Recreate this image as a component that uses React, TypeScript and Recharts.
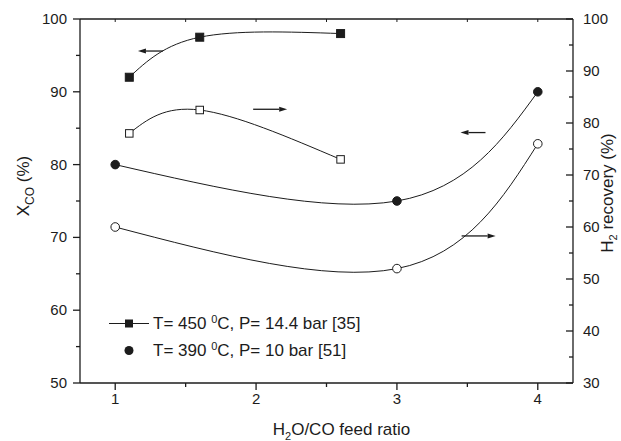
import React from 'react';
import { ComposedChart, Line, Scatter, XAxis, YAxis, Legend } from 'recharts';

// H2O/CO feed ratio axis
const ratioTicks = [1, 1.5, 2, 2.5, 3, 3.5, 4];
const xcoTicks = [50, 55, 60, 65, 70, 75, 80, 85, 90, 95, 100];
const recoveryTicks = [30, 35, 40, 45, 50, 55, 60, 65, 70, 75, 80, 85, 90, 95, 100];

// T = 450 C, P = 14.4 bar [35]
const ratio450 = [1.1, 1.6, 2.6];
const xco450 = [92, 97.5, 98];
const recovery450 = [78, 82.5, 73];

// T = 390 C, P = 10 bar [51]
const ratio390 = [1, 3, 4];
const xco390 = [80, 75, 90];
const recovery390 = [60, 52, 76];

// arrows pointing to the axis each curve belongs to (left-axis units)
const arrowRatio = [1.25, 2.1, 3.54, 3.58];
const arrowXco = [95.6, 87.6, 84.4, 70.2];
const arrowDir = ['left', 'right', 'left', 'right'];

const legendItems = [
  { temp: '450', rest: 'C, P= 14.4 bar [35]', marker: 'square' },
  { temp: '390', rest: 'C, P= 10 bar [51]', marker: 'circle' },
];

const ink = '#1c1c1c';
const font = '"Liberation Sans", Arial, sans-serif';

const toPoints = (xs: number[], ys: number[]) => xs.map((x, i) => ({ x, y: ys[i] }));
const arrows = arrowRatio.map((x, i) => ({ x, y: arrowXco[i], dir: arrowDir[i] }));

const BottomTick = (props: any) => {
  const { x, y, payload } = props;
  const major = Number.isInteger(payload.value);
  return (
    <g>
      <line x1={x} x2={x} y1={y} y2={y + (major ? 7 : 4)} stroke={ink} strokeWidth={1.3} />
      {major && (
        <text x={x} y={y + 21} textAnchor="middle" fontSize={15} fill={ink} fontFamily={font}>
          {payload.value}
        </text>
      )}
    </g>
  );
};

const TopTick = (props: any) => {
  const { x, y } = props;
  return <line x1={x} x2={x} y1={y} y2={y + 3} stroke={ink} strokeWidth={1} />;
};

const LeftTick = (props: any) => {
  const { x, y, payload } = props;
  const major = payload.value % 10 === 0;
  return (
    <g>
      <line x1={x - (major ? 7 : 4)} x2={x} y1={y} y2={y} stroke={ink} strokeWidth={1.3} />
      {major && (
        <text x={x - 13} y={y + 5} textAnchor="end" fontSize={15} fill={ink} fontFamily={font}>
          {payload.value}
        </text>
      )}
    </g>
  );
};

const RightTick = (props: any) => {
  const { x, y, payload } = props;
  const major = payload.value % 10 === 0;
  return (
    <g>
      <line x1={x - (major ? 7 : 4)} x2={x} y1={y} y2={y} stroke={ink} strokeWidth={1.3} />
      {major && (
        <text x={x + 10} y={y + 5} textAnchor="start" fontSize={15} fill={ink} fontFamily={font}>
          {payload.value}
        </text>
      )}
    </g>
  );
};

const XTitle = (props: any) => {
  const { viewBox } = props;
  const cx = viewBox.x + viewBox.width / 2 + 15;
  return (
    <text x={cx} y={viewBox.y + 52} textAnchor="middle" fontSize={17} fill={ink} fontFamily={font}>
      H<tspan dy={5} fontSize={11}>2</tspan>
      <tspan dy={-5}>O/CO feed ratio</tspan>
    </text>
  );
};

const LeftTitle = () => {
  const cx = 29;
  const cy = 186;
  return (
    <text
      x={cx}
      y={cy}
      transform={`rotate(-90 ${cx} ${cy})`}
      textAnchor="middle"
      fontSize={17}
      fill={ink}
      fontFamily={font}
    >
      X<tspan dy={5} fontSize={12}>CO</tspan>
      <tspan dy={-5}> (%)</tspan>
    </text>
  );
};

const RightTitle = () => {
  const cx = 613;
  const cy = 193;
  return (
    <text
      x={cx}
      y={cy}
      transform={`rotate(-90 ${cx} ${cy})`}
      textAnchor="middle"
      fontSize={17}
      fill={ink}
      fontFamily={font}
    >
      H<tspan dy={4} fontSize={11}>2</tspan>
      <tspan dy={-4}> recovery (%)</tspan>
    </text>
  );
};

const Marker = ({ cx, cy, kind, filled }: any) => {
  if (cx == null || cy == null) return null;
  const fill = filled ? ink : '#fff';
  if (kind === 'square') {
    const s = filled ? 8 : 7.5;
    return <rect x={cx - s / 2} y={cy - s / 2} width={s} height={s} fill={fill} stroke={ink} strokeWidth={1} />;
  }
  return <circle cx={cx} cy={cy} r={4.3} fill={fill} stroke={ink} strokeWidth={1} />;
};

const dotFor = (kind: string, filled: boolean) => (p: any) => (
  <Marker key={`${kind}-${filled}-${p.index}`} cx={p.cx} cy={p.cy} kind={kind} filled={filled} />
);

const Arrow = (props: any) => {
  const { cx, cy, payload } = props;
  const left = payload.dir === 'left';
  const len = left ? 25 : 34;
  const x0 = cx - len / 2;
  const x1 = cx + len / 2;
  const tip = left ? x0 : x1;
  const base = left ? x0 + 8 : x1 - 8;
  return (
    <g>
      <line x1={left ? base : x0} x2={left ? x1 : base} y1={cy} y2={cy} stroke={ink} strokeWidth={1.3} />
      <polygon points={`${tip},${cy} ${base},${cy - 2.5} ${base},${cy + 2.5}`} fill={ink} />
    </g>
  );
};

const LegendBox = () => (
  <div style={{ fontFamily: font, fontSize: 17, color: ink }}>
    {legendItems.map((item) => (
      <div key={item.temp} style={{ display: 'flex', alignItems: 'center', height: 27 }}>
        <svg width={44} height={27} style={{ flex: 'none' }}>
          {item.marker === 'square' && <line x1={0} x2={40} y1={13.5} y2={13.5} stroke={ink} strokeWidth={1} />}
          {item.marker === 'square' ? (
            <rect x={16} y={9.5} width={8} height={8} fill={ink} />
          ) : (
            <circle cx={20} cy={13.5} r={4.5} fill={ink} />
          )}
        </svg>
        <span style={{ whiteSpace: 'nowrap' }}>
          T= {item.temp} <sup style={{ fontSize: 11, verticalAlign: 6 }}>0</sup>
          {item.rest}
        </span>
      </div>
    ))}
  </div>
);

export default function App() {
  return (
    <>
      <style>{`body{margin:0;background:#fff}`}</style>
      <ComposedChart width={621} height={441} margin={{ top: 18, right: 0, bottom: 0, left: 0 }}>
        <XAxis
          xAxisId="bottom"
          type="number"
          dataKey="x"
          domain={[0.75, 4.25]}
          ticks={ratioTicks}
          interval={0}
          height={58}
          tickSize={0}
          tickMargin={0}
          tickLine={false}
          tick={<BottomTick />}
          axisLine={{ stroke: ink, strokeWidth: 1.3 }}
          label={<XTitle />}
          allowDataOverflow
        />
        <XAxis
          xAxisId="top"
          orientation="top"
          type="number"
          dataKey="x"
          domain={[0.75, 4.25]}
          ticks={ratioTicks}
          interval={0}
          height={1}
          tickSize={0}
          tickMargin={0}
          tickLine={false}
          tick={<TopTick />}
          axisLine={{ stroke: ink, strokeWidth: 1.3 }}
          allowDataOverflow
        />
        <YAxis
          yAxisId="left"
          type="number"
          domain={[50, 100]}
          ticks={xcoTicks}
          interval={0}
          width={80}
          tickSize={0}
          tickMargin={0}
          tickLine={false}
          tick={<LeftTick />}
          axisLine={{ stroke: ink, strokeWidth: 1.3 }}
          label={<LeftTitle />}
          allowDataOverflow
        />
        <YAxis
          yAxisId="right"
          orientation="right"
          type="number"
          domain={[30, 100]}
          ticks={recoveryTicks}
          interval={0}
          width={48}
          tickSize={0}
          tickMargin={0}
          tickLine={false}
          tick={<RightTick />}
          axisLine={{ stroke: ink, strokeWidth: 1.3 }}
          label={<RightTitle />}
          allowDataOverflow
        />
        <Line
          xAxisId="bottom"
          yAxisId="left"
          data={toPoints(ratio450, xco450)}
          dataKey="y"
          type="natural"
          stroke={ink}
          strokeWidth={1}
          dot={dotFor('square', true)}
          activeDot={false}
          isAnimationActive={false}
        />
        <Line
          xAxisId="bottom"
          yAxisId="right"
          data={toPoints(ratio450, recovery450)}
          dataKey="y"
          type="natural"
          stroke={ink}
          strokeWidth={1}
          dot={dotFor('square', false)}
          activeDot={false}
          isAnimationActive={false}
        />
        <Line
          xAxisId="bottom"
          yAxisId="left"
          data={toPoints(ratio390, xco390)}
          dataKey="y"
          type="natural"
          stroke={ink}
          strokeWidth={1}
          dot={dotFor('circle', true)}
          activeDot={false}
          isAnimationActive={false}
        />
        <Line
          xAxisId="bottom"
          yAxisId="right"
          data={toPoints(ratio390, recovery390)}
          dataKey="y"
          type="natural"
          stroke={ink}
          strokeWidth={1}
          dot={dotFor('circle', false)}
          activeDot={false}
          isAnimationActive={false}
        />
        <Scatter
          xAxisId="bottom"
          yAxisId="left"
          data={arrows}
          dataKey="y"
          shape={Arrow}
          isAnimationActive={false}
        />
        <Legend
          layout="horizontal"
          verticalAlign="middle"
          align="center"
          content={() => <LegendBox />}
          wrapperStyle={{ left: 109, top: 310, width: 340 }}
        />
      </ComposedChart>
    </>
  );
}
